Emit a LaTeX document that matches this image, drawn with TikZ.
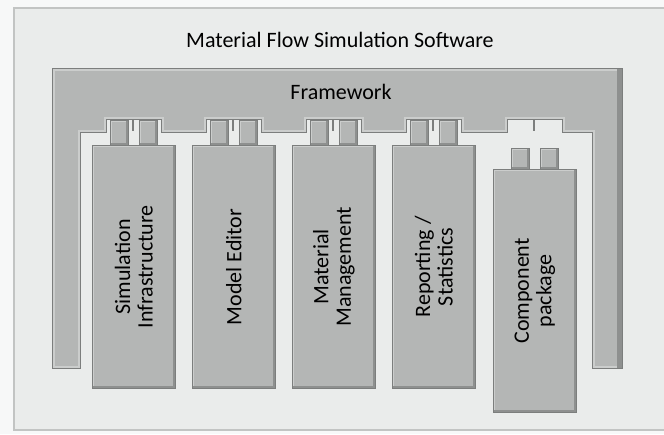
\documentclass[tikz,border=0pt]{standalone}
\usepackage{fontspec}
\setmainfont{Carlito}
\usetikzlibrary{calc}
\definecolor{pageback}{HTML}{F7F8F8}
\definecolor{panel}{HTML}{EAECEB}
\definecolor{panelline}{HTML}{C2C4C3}
\definecolor{block}{HTML}{B4B6B5}
\definecolor{edge}{HTML}{7C7E7D}
\definecolor{hl}{HTML}{CBCDCC}
\definecolor{dk}{HTML}{8E908F}
\tikzset{
  bevel/.style={path picture={
      \draw[hl,line width=4pt] (path picture bounding box.south west) -- (path picture bounding box.north west) -- (path picture bounding box.north east);
      \draw[dk,line width=4pt] (path picture bounding box.north east) -- (path picture bounding box.south east) -- (path picture bounding box.south west);
  }},
  modbox/.style={bevel,fill=block,draw=edge,line width=0.8pt,inner sep=0pt,minimum width=83pt,minimum height=243pt,anchor=north west},
  pegbox/.style={bevel,fill=block,draw=edge,line width=0.6pt,inner sep=0pt,minimum width=18pt,anchor=north west},
  modlabel/.style={rotate=90,align=center,font=\fontsize{22}{22.5}\selectfont,text=black},
  divider/.style={draw=edge,line width=1.2pt},
}
\begin{document}
\begin{tikzpicture}[x=1pt,y=-1pt]
\useasboundingbox (0,0) rectangle (664,434);
\fill[pageback] (0,0) rectangle (664,434);
% outer panel
\draw[fill=panel,draw=panelline,line width=1.5pt] (14,8) rectangle (680,430);
\node (title) at (340,40) {\fontsize{22}{24}\selectfont Material Flow Simulation Software};
% framework
\def\fwpath{(52,68) -- (622,68) -- (622,368) -- (592,368) -- (592,132)
  -- (562,132) -- (562,119) -- (507,119) -- (507,132)
  -- (461,132) -- (461,119) -- (406,119) -- (406,132)
  -- (361,132) -- (361,119) -- (306,119) -- (306,132)
  -- (261,132) -- (261,119) -- (206,119) -- (206,132)
  -- (161,132) -- (161,119) -- (106,119) -- (106,132)
  -- (80,132) -- (80,368) -- (52,368) -- cycle}
\fill[block] \fwpath;
\begin{scope}
  \clip \fwpath;
  \draw[hl,line width=5pt] \fwpath;
  \fill[dk] (617,68) rectangle (622,368);
\end{scope}
\draw[edge,line width=0.8pt] \fwpath;
\node (fw) at (341,92) {\fontsize{22}{24}\selectfont Framework};
% dividers in notches
\foreach \L in {92,192,292,392,493}{
  \draw[divider] (\L+41,119) -- (\L+41,131);
}
% pegs of modules
\foreach \L/\n in {92/1,192/2,292/3,392/4}{
  \node[pegbox,minimum height=25pt] (pa\n) at (\L+18,120) {};
  \node[pegbox,minimum height=25pt] (pb\n) at (\L+47,120) {};
}
\node[pegbox,minimum height=21pt] (pa5) at (511,148) {};
\node[pegbox,minimum height=21pt] (pb5) at (540,148) {};
% modules
\node[modbox] (m1) at (92,145) {};
\node[modbox] (m2) at (192,145) {};
\node[modbox] (m3) at (292,145) {};
\node[modbox] (m4) at (392,145) {};
\node[modbox] (m5) at (493,169) {};
\node[modlabel] (t1) at (m1.center) {Simulation\\Infrastructure};
\node[modlabel] (t2) at (m2.center) {Model Editor};
\node[modlabel] (t3) at (m3.center) {Material\\Management};
\node[modlabel] (t4) at (m4.center) {Reporting /\\Statistics};
\node[modlabel] (t5) at (m5.center) {Component\\package};
\end{tikzpicture}
\end{document}
